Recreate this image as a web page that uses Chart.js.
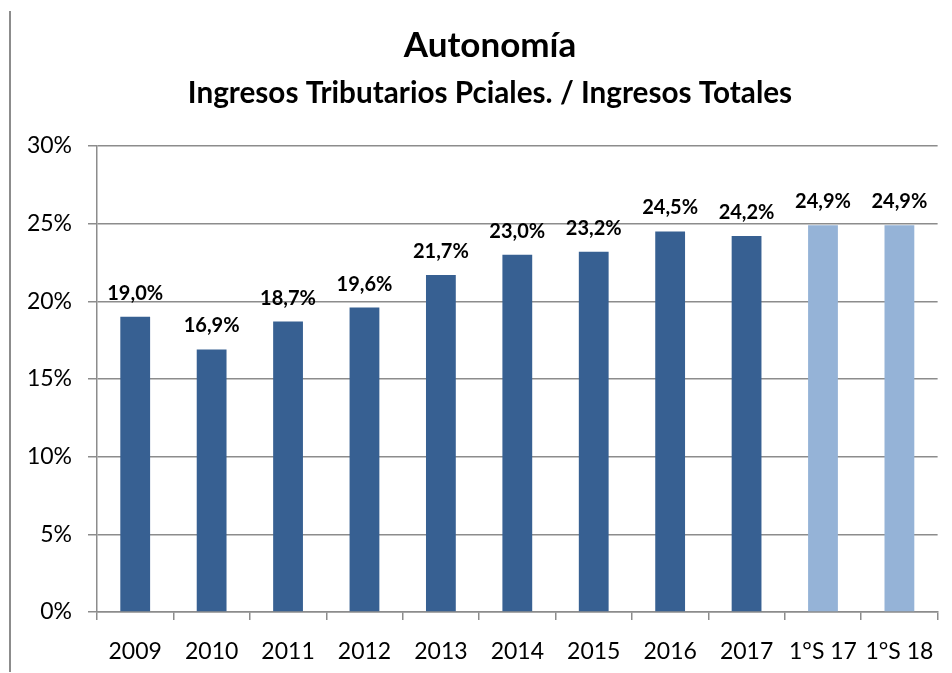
<!DOCTYPE html>
<html>
<head>
<meta charset="utf-8">
<script src="https://cdn.jsdelivr.net/npm/chart.js"></script>
<style>
  html, body { margin: 0; padding: 0; background: #fff; }
  #wrap { position: relative; width: 952px; height: 673px; }
  #frame { position: absolute; left: 9px; top: 11px; width: 2px; height: 661px; background: #8c8c8c; }
</style>
</head>
<body>
<div id="wrap">
  <div id="frame"></div>
  <canvas id="autonomiaChart" width="952" height="673"></canvas>
</div>
<script>
// Datos
const categorias = ['2009', '2010', '2011', '2012', '2013', '2014', '2015', '2016', '2017', '1°S 17', '1°S 18'];
const valores = [19.0, 16.9, 18.7, 19.6, 21.7, 23.0, 23.2, 24.5, 24.2, 24.9, 24.9];
const coloresBarras = ['#376092', '#376092', '#376092', '#376092', '#376092', '#376092', '#376092', '#376092', '#376092', '#95b3d7', '#95b3d7'];
const ticksY = [0, 5, 10, 15, 20, 25, 30];
const titulo = 'Autonomía';
const subtitulo = 'Ingresos Tributarios Pciales. / Ingresos Totales';

const gris = '#8c8c8c';
const fuente = 'Lato, "Open Sans", sans-serif';

// Título y subtítulo (dibujados a mano para centrarlos como en el original)
const tituloPlugin = {
    id: 'titulo',
    afterDraw(chart) {
        const ctx = chart.ctx;
        const cx = (chart.width + 28) / 2;
        ctx.save();
        ctx.fillStyle = '#000';
        ctx.textAlign = 'center';
        ctx.textBaseline = 'alphabetic';
        ctx.font = 'bold 35px ' + fuente;
        ctx.fillText(titulo, cx, 57);
        ctx.font = 'bold 29.7px ' + fuente;
        ctx.fillText(subtitulo, cx, 103);
        ctx.restore();
    }
};

// Etiquetas de valor encima de cada barra
const etiquetasPlugin = {
    id: 'etiquetas',
    afterDatasetsDraw(chart) {
        const ctx = chart.ctx;
        const meta = chart.getDatasetMeta(0);
        ctx.save();
        ctx.font = 'bold 20px ' + fuente;
        ctx.fillStyle = '#000';
        ctx.textAlign = 'center';
        ctx.textBaseline = 'alphabetic';
        meta.data.forEach((bar, i) => {
            const txt = valores[i].toFixed(1).replace('.', ',') + '%';
            ctx.fillText(txt, bar.x, bar.y - 17);
        });
        ctx.restore();
    }
};

const config = {
    type: 'bar',
    data: {
        labels: categorias,
        datasets: [{
            data: valores,
            backgroundColor: coloresBarras,
            borderWidth: 0,
            barPercentage: 0.39,
            categoryPercentage: 1.0
        }]
    },
    options: {
        responsive: false,
        animation: false,
        layout: {
            padding: { top: 146, left: 20, right: 14, bottom: 0 }
        },
        plugins: {
            legend: { display: false },
            tooltip: { enabled: false },
            title: { display: false }
        },
        scales: {
            x: {
                grid: {
                    drawOnChartArea: false,
                    drawTicks: true,
                    tickLength: 8,
                    color: gris,
                    lineWidth: 1.5
                },
                border: { display: true, color: gris, width: 1.5 },
                ticks: {
                    color: '#000',
                    padding: 18,
                    font: { family: fuente, size: 23 }
                },
                afterFit(scale) { scale.height = 61; }
            },
            y: {
                min: 0,
                max: 30,
                afterBuildTicks(scale) {
                    scale.ticks = ticksY.map(v => ({ value: v }));
                },
                grid: {
                    color: gris,
                    lineWidth: 1.5,
                    tickLength: 9
                },
                border: { display: true, color: gris, width: 1.5 },
                ticks: {
                    color: '#000',
                    padding: 16,
                    font: { family: fuente, size: 23 },
                    callback: v => v + '%'
                },
                afterFit(scale) { scale.width = 77; }
            }
        }
    },
    plugins: [etiquetasPlugin, tituloPlugin]
};

const chart = new Chart(document.getElementById('autonomiaChart').getContext('2d'), config);
</script>
</body>
</html>
